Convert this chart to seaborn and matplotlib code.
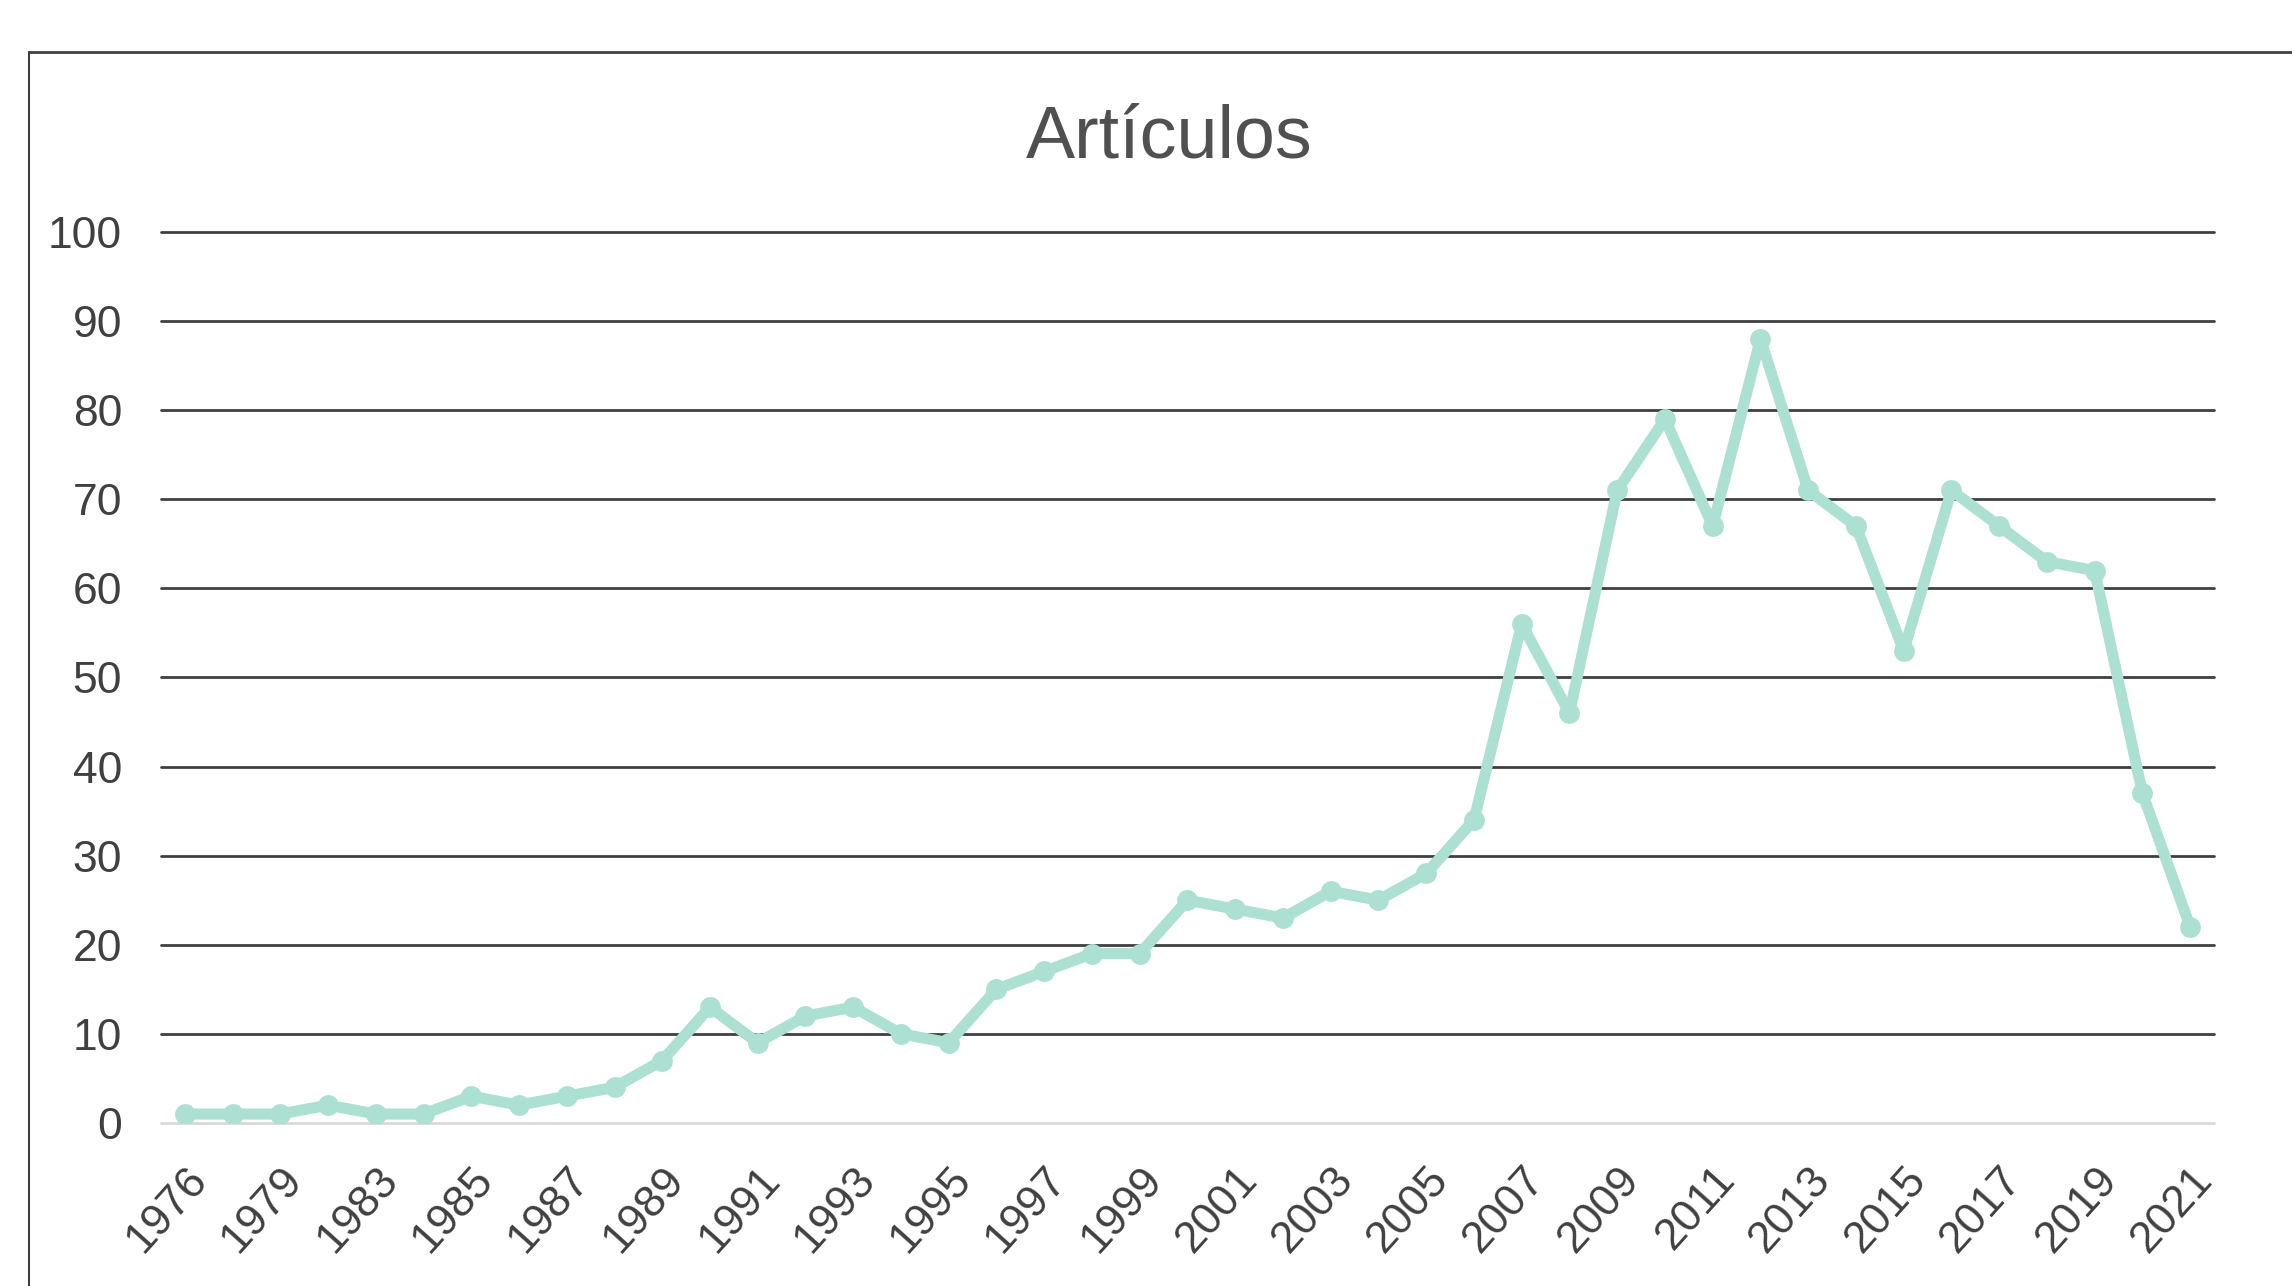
import pandas as pd
import seaborn as sns
import matplotlib.pyplot as plt
from matplotlib.lines import Line2D

years = ['1976', '1978', '1979', '1981', '1983', '1984', '1985', '1986', '1987', '1988',
         '1989', '1990', '1991', '1992', '1993', '1994', '1995', '1996', '1997', '1998',
         '1999', '2000', '2001', '2002', '2003', '2004', '2005', '2006', '2007', '2008',
         '2009', '2010', '2011', '2012', '2013', '2014', '2015', '2016', '2017', '2018',
         '2019', '2020', '2021']
articulos = [1, 1, 1, 2, 1, 1, 3, 2, 3, 4,
             7, 13, 9, 12, 13, 10, 9, 15, 17, 19,
             19, 25, 24, 23, 26, 25, 28, 34, 56, 46,
             71, 79, 67, 88, 71, 67, 53, 71, 67, 63,
             62, 37, 22]
y_ticks = [0, 10, 20, 30, 40, 50, 60, 70, 80, 90, 100]

df = pd.DataFrame({'pos': range(len(years)), 'year': years, 'articulos': articulos})

sns.set_theme(style="white")
plt.rcParams['font.family'] = ['Liberation Sans', 'DejaVu Sans']

fig = plt.figure(figsize=(22.92, 12.86), dpi=100)
ax = fig.add_axes([0.0702, 0.1268, 0.8958, 0.6928])

line_color = '#ace0d2'
sns.lineplot(data=df, x='pos', y='articulos', ax=ax, color=line_color,
             linewidth=8, marker='o', markersize=15, markeredgewidth=0, zorder=3)

ax.set_xlim(-0.5, len(years) - 0.5)
ax.set_ylim(0, 100)
ax.set_yticks(y_ticks)
ax.set_yticklabels([str(t) for t in y_ticks], fontsize=32, color='#404040')
ax.set_xticks(df['pos'][::2])
ax.set_xticklabels(df['year'][::2], rotation=48, ha='right', va='top',
                   rotation_mode='anchor', fontsize=32, color='#404040')
ax.tick_params(axis='both', length=0)
ax.tick_params(axis='y', pad=28)
ax.tick_params(axis='x', pad=26)

for t in y_ticks[1:]:
    ax.axhline(t, color='#404040', linewidth=2, zorder=1, clip_on=False)
ax.axhline(0, color='#d9d9d9', linewidth=2, zorder=1, clip_on=False)

for s in ax.spines.values():
    s.set_visible(False)

ax.set_xlabel('')
ax.set_ylabel('')
fig.text(0.51, 0.893, 'Artículos', ha='center', va='center', fontsize=53, color='#505050')

# outer frame of the screenshot
fig.add_artist(Line2D([0.0127, 1.0], [0.9596, 0.9596], color='#404040', linewidth=2))
fig.add_artist(Line2D([0.0127, 0.0127], [0.0, 0.9596], color='#404040', linewidth=1.5))

plt.savefig('out.png', dpi=100)
